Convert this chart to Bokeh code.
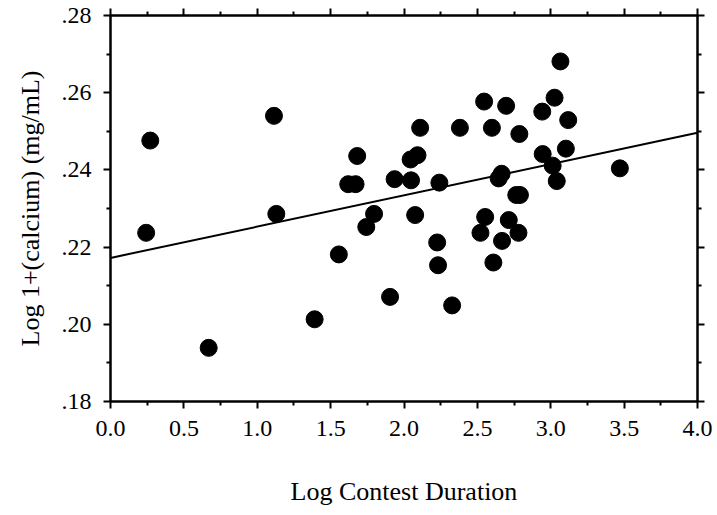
from bokeh.plotting import figure
from bokeh.models import Range1d, FixedTicker, LinearAxis
from bokeh.embed import file_html
from bokeh.resources import INLINE

# Data
log_duration = [0.243, 0.271, 0.669, 1.114, 1.130, 1.391, 1.556, 1.620, 1.670,
                1.681, 1.743, 1.796, 1.905, 1.936, 2.048, 2.045, 2.092, 2.076,
                2.110, 2.226, 2.232, 2.241, 2.328, 2.381, 2.521, 2.546, 2.553,
                2.599, 2.609, 2.645, 2.665, 2.668, 2.696, 2.714, 2.765, 2.790,
                2.780, 2.786, 2.942, 2.945, 3.013, 3.026, 3.041, 3.066, 3.103,
                3.119, 3.471]
log_calcium = [0.2237, 0.2476, 0.1939, 0.2540, 0.2286, 0.2013, 0.2181, 0.2363, 0.2363,
               0.2436, 0.2252, 0.2286, 0.2071, 0.2376, 0.2373, 0.2427, 0.2438, 0.2283,
               0.2509, 0.2212, 0.2153, 0.2367, 0.2049, 0.2509, 0.2237, 0.2577, 0.2278,
               0.2509, 0.2160, 0.2378, 0.2390, 0.2216, 0.2566, 0.2270, 0.2335, 0.2335,
               0.2237, 0.2493, 0.2551, 0.2441, 0.2411, 0.2587, 0.2371, 0.2681, 0.2455,
               0.2529, 0.2404]
fit_intercept = 0.2172
fit_slope = 0.0081

x_ticks = [0.0, 0.5, 1.0, 1.5, 2.0, 2.5, 3.0, 3.5, 4.0]
x_tick_labels = ["0.0", "0.5", "1.0", "1.5", "2.0", "2.5", "3.0", "3.5", "4.0"]
x_minor = [0.25, 0.75, 1.25, 1.75, 2.25, 2.75, 3.25, 3.75]
y_ticks = [0.18, 0.20, 0.22, 0.24, 0.26, 0.28]
y_tick_labels = [".18", ".20", ".22", ".24", ".26", ".28"]
y_minor = [0.19, 0.21, 0.23, 0.25, 0.27]

x_min, x_max = 0.0, 4.0
y_min, y_max = 0.18, 0.28

FONT = "Liberation Serif"

p = figure(width=717, height=515, output_backend="svg", toolbar_location=None,
           x_range=Range1d(x_min, x_max), y_range=Range1d(y_min, y_max),
           x_axis_label="Log Contest Duration",
           y_axis_label="Log 1+(calcium) (mg/mL)",
           min_border_left=110, min_border_right=20, min_border_top=15,
           min_border_bottom=114)
p.grid.visible = False
p.outline_line_color = "black"
p.outline_line_width = 2
p.background_fill_color = "white"
p.border_fill_color = "white"

xt = FixedTicker(ticks=x_ticks, minor_ticks=x_minor)
yt = FixedTicker(ticks=y_ticks, minor_ticks=y_minor)

top_axis = LinearAxis(ticker=xt, major_label_overrides={t: "" for t in x_ticks},
                      major_label_standoff=0)
right_axis = LinearAxis(ticker=yt, major_label_overrides={t: "" for t in y_ticks},
                        major_label_standoff=0)
p.add_layout(top_axis, "above")
p.add_layout(right_axis, "right")

bx = p.below[0]
ly = p.left[0]
bx.ticker = xt
ly.ticker = yt

for ax in (bx, ly, top_axis, right_axis):
    ax.axis_line_width = 2
    ax.axis_line_color = "black"
    ax.major_tick_line_width = 2
    ax.minor_tick_line_width = 2
    ax.major_tick_line_color = "black"
    ax.minor_tick_line_color = "black"
    ax.major_tick_out = 7
    ax.major_tick_in = 0
    ax.minor_tick_out = 4
    ax.minor_tick_in = 0
    ax.major_label_text_font = FONT
    ax.major_label_text_font_size = "24px"
    ax.major_label_text_color = "black"
    ax.axis_label_text_font = FONT
    ax.axis_label_text_font_style = "normal"
    ax.axis_label_text_font_size = "26px"
    ax.axis_label_text_color = "black"

bx.major_label_overrides = dict(zip(x_ticks, x_tick_labels))
bx.major_label_standoff = 12
bx.axis_label_standoff = 38

ly.major_label_overrides = dict(zip(y_ticks, y_tick_labels))
ly.major_label_standoff = 12
ly.axis_label_standoff = 14

p.scatter(log_duration, log_calcium, size=17, color="black", marker="circle")

line_x = [x_min, x_max]
line_y = [fit_intercept + fit_slope * v for v in line_x]
p.line(line_x, line_y, line_color="black", line_width=2)

open("out.html", "w").write(file_html(p, INLINE))
